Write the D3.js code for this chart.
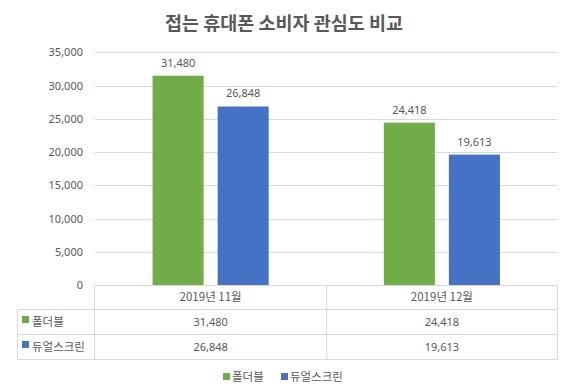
<!DOCTYPE html>
<html><head><meta charset="utf-8">
<script src="https://cdn.jsdelivr.net/npm/d3@7"></script>
<style>
body{margin:0;background:#fff;}
text{font-family:"Noto Sans CJK KR","Noto Sans",sans-serif;fill:#595959;}
</style></head>
<body><svg id="c" width="570" height="392"></svg>
<script>
const title = "접는 휴대폰 소비자 관심도 비교";
const categories = ["2019년 11월", "2019년 12월"];
const seriesNames = ["폴더블", "듀얼스크린"];
const foldable = [31480, 24418];
const dualScreen = [26848, 19613];
const yTicks = [0, 5000, 10000, 15000, 20000, 25000, 30000, 35000];
const colors = ["#70AD47", "#4472C4"];

const seriesValues = [foldable, dualScreen];
const svg = d3.select("#c");
const fmt = d3.format(",");
const L = 95, R = 557.5, T = 52.3, B = 285;

svg.append("text").attr("x", 284).attr("y", 30).attr("text-anchor", "middle")
  .style("font-size", "18.5px").style("font-weight", "bold").text(title);

const y = d3.scaleLinear().domain([0, 35000]).range([B, T]);
const x0 = d3.scaleBand().domain(categories).range([L, R]).padding(0);
const x1 = d3.scaleBand().domain(seriesNames).range([0, x0.bandwidth()])
  .paddingInner(0.2154).paddingOuter(0.885);

// gridlines
svg.append("g").selectAll("line").data(yTicks.filter(d => d > 0)).join("line")
  .attr("x1", L).attr("x2", R).attr("y1", d => Math.round(y(d)) + 0.5).attr("y2", d => Math.round(y(d)) + 0.5)
  .attr("stroke", "#d9d9d9").attr("stroke-width", 1);

// axis labels
const yAxis = d3.axisLeft(y).tickValues(yTicks).tickFormat(fmt).tickSize(0).tickPadding(0);
const ga = svg.append("g").attr("transform", `translate(83,0)`).call(yAxis);
ga.select(".domain").remove();
ga.selectAll("text").style("font-size", "11px").style("font-family", "'Noto Sans','Noto Sans CJK KR',sans-serif").attr("fill", "#595959");

// bars
const groups = svg.append("g").selectAll("g").data(categories).join("g")
  .attr("transform", d => `translate(${x0(d)},0)`);
groups.selectAll("rect").data((c, i) => seriesNames.map((s, j) => ({s, j, v: seriesValues[j][i]})))
  .join("rect")
  .attr("x", d => x1(d.s)).attr("width", x1.bandwidth())
  .attr("y", d => y(d.v)).attr("height", d => y(0) - y(d.v))
  .attr("fill", d => colors[d.j]);
groups.selectAll("text.lbl").data((c, i) => seriesNames.map((s, j) => ({s, j, v: seriesValues[j][i]})))
  .join("text").attr("class", "lbl")
  .attr("x", d => x1(d.s) + x1.bandwidth() / 2).attr("y", d => y(d.v) - 9)
  .attr("text-anchor", "middle").style("font-size", "11px")
  .style("font-family", "'Noto Sans','Noto Sans CJK KR',sans-serif")
  .text(d => fmt(d.v));

// data table
const TL = 17.5, rows = [B, 309.5, 334.5, 359.5];
const tg = svg.append("g").attr("stroke", "#d9d9d9").attr("stroke-width", 1);
tg.append("line").attr("x1", L).attr("x2", R).attr("y1", B + 0.5).attr("y2", B + 0.5);
rows.slice(1).forEach(r => tg.append("line").attr("x1", TL).attr("x2", R).attr("y1", r).attr("y2", r));
tg.append("line").attr("x1", TL).attr("x2", TL).attr("y1", rows[1]).attr("y2", rows[3]);
[L - 0.5, x0(categories[1]) + 0.5, R].forEach(xv =>
  tg.append("line").attr("x1", xv).attr("x2", xv).attr("y1", B).attr("y2", rows[3]));

svg.append("g").selectAll("text").data(categories).join("text")
  .attr("x", d => x0(d) + x0.bandwidth() / 2).attr("y", (rows[0] + rows[1]) / 2)
  .attr("dy", "0.35em").attr("text-anchor", "middle").style("font-size", "11.5px").text(d => d);

seriesNames.forEach((s, j) => {
  const cy = (rows[j + 1] + rows[j + 2]) / 2;
  svg.append("rect").attr("x", 22).attr("y", cy - 6).attr("width", 7).attr("height", 7).attr("fill", colors[j]);
  svg.append("text").attr("x", 32).attr("y", cy).attr("dy", "0.38em").style("font-size", "11.5px").text(s);
  svg.append("g").selectAll("text").data(categories).join("text")
    .attr("x", d => x0(d) + x0.bandwidth() / 2).attr("y", cy).attr("dy", "0.35em")
    .attr("text-anchor", "middle").style("font-size", "11px")
    .style("font-family", "'Noto Sans','Noto Sans CJK KR',sans-serif")
    .text((d, i) => fmt(seriesValues[j][i]));
});

// legend
const legX = [223, 281];
seriesNames.forEach((s, j) => {
  svg.append("rect").attr("x", legX[j]).attr("y", 373).attr("width", 7).attr("height", 7).attr("fill", colors[j]);
  svg.append("text").attr("x", legX[j] + 9).attr("y", 377).attr("dy", "0.38em").style("font-size", "11.5px").text(s);
});
</script></body></html>
